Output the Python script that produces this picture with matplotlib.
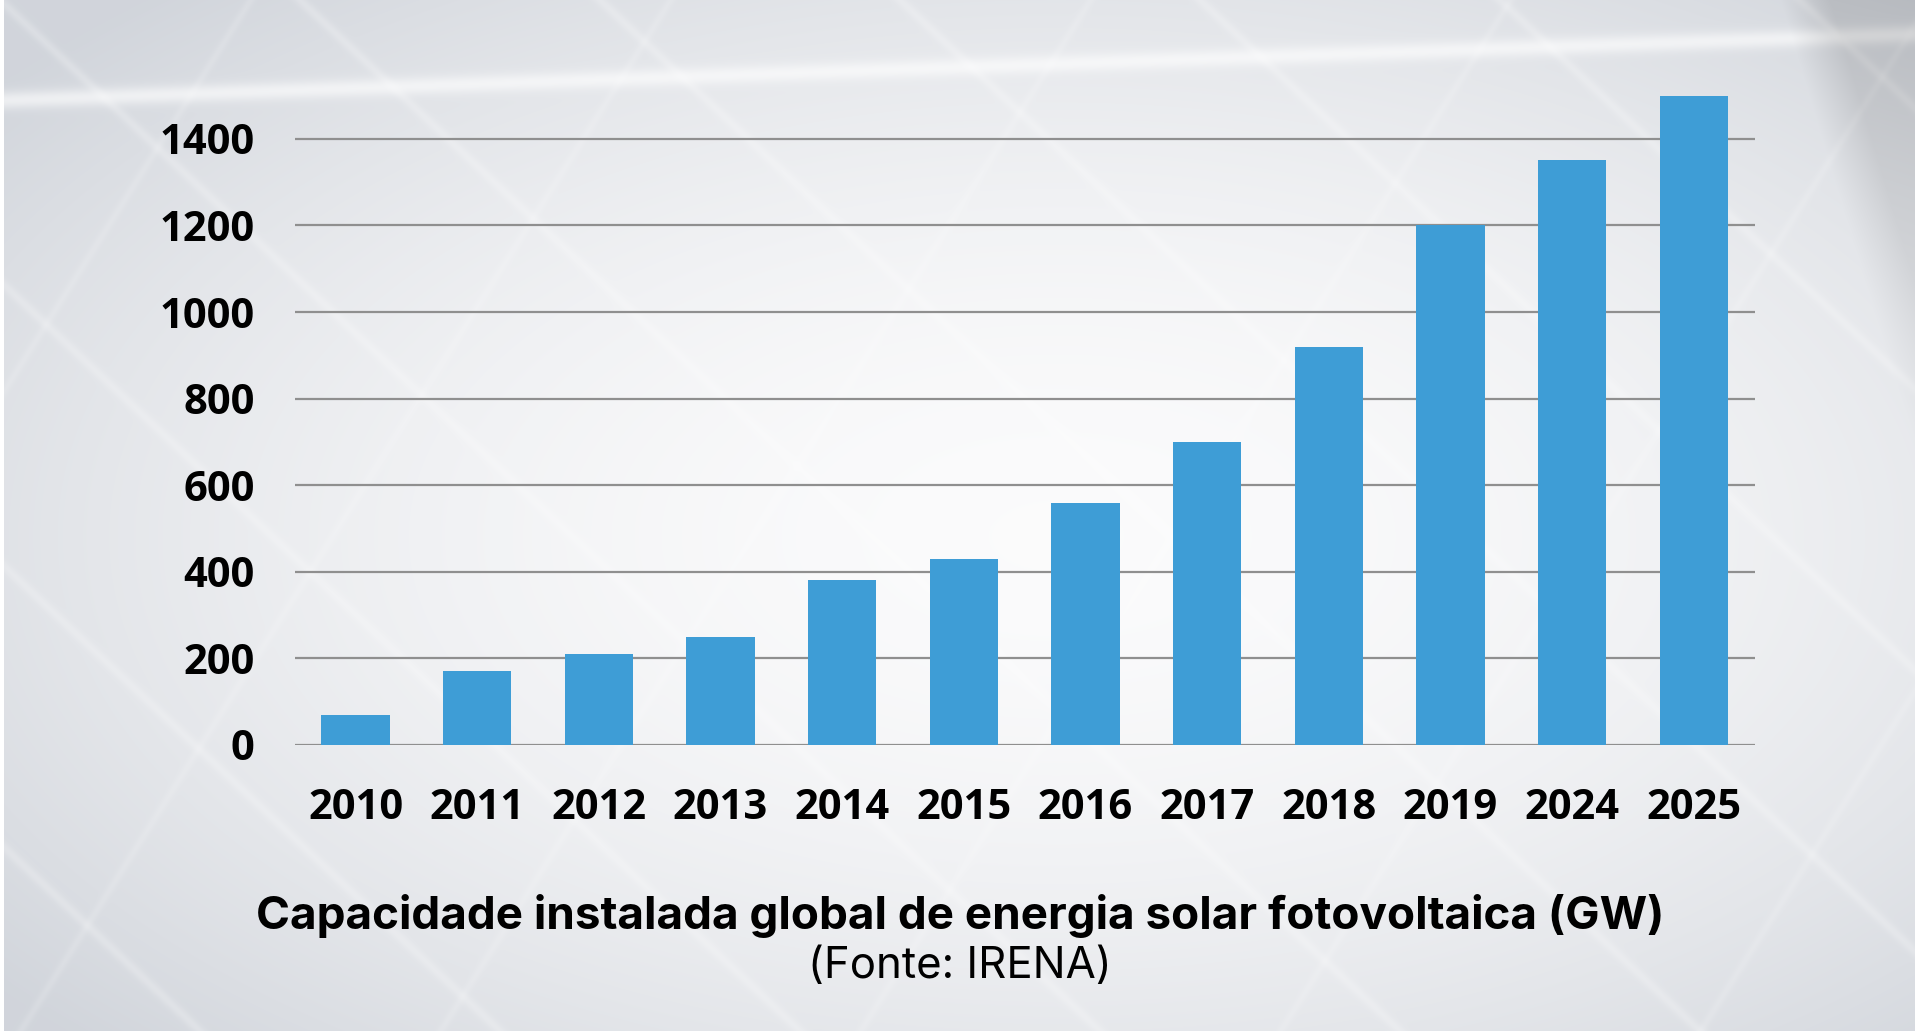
import numpy as np
import matplotlib
matplotlib.use("Agg")
import matplotlib.pyplot as plt

years = ["2010", "2011", "2012", "2013", "2014", "2015", "2016", "2017", "2018", "2019", "2024", "2025"]
capacity_gw = [70, 170, 210, 250, 380, 430, 560, 700, 920, 1200, 1350, 1500]
y_ticks = [0, 200, 400, 600, 800, 1000, 1200, 1400]
title = "Capacidade instalada global de energia solar fotovoltaica (GW)"
subtitle = "(Fonte: IRENA)"

W, H = 1920, 1031
fig = plt.figure(figsize=(W / 100, H / 100), dpi=100)

# ---- background: soft grey photo-like gradient with faint panel lines ----
yy, xx = np.mgrid[0:H, 0:W].astype(float)
cx, cy = 0.55 * W, 0.52 * H
r = np.sqrt(((xx - cx) / (0.60 * W)) ** 2 + ((yy - cy) / (0.60 * H)) ** 2)
t = np.clip(1.0 - r ** 1.8 * 0.75, 0, 1)[..., None]
base_edge = np.array([0.82, 0.835, 0.86])
base_mid = np.array([0.985, 0.985, 0.988])
img = base_edge * (1 - t) + base_mid * t

def add_line(img, p0, p1, width, strength):
    (x0, y0), (x1, y1) = p0, p1
    dx, dy = x1 - x0, y1 - y0
    L = np.hypot(dx, dy)
    d = np.abs(dy * (xx - x0) - dx * (yy - y0)) / L
    a = strength * np.exp(-(d / width) ** 2)
    return img * (1 - a[..., None]) + a[..., None] * 1.0

# faint diagonal panel lines
for off in np.arange(-1500, 2200, 300):
    img = add_line(img, (off, 0), (off + 1100, H), 5.0, 0.22)
for off in np.arange(-400, 2400, 420):
    img = add_line(img, (off, H), (off + 650, 0), 4.0, 0.14)
# bright band near the top
img = add_line(img, (0, 100), (1300, 55), 9.0, 0.6)

# darker frame region on the top right
frame = np.clip((xx - (1780 + 0.3 * yy)) / 50.0, 0, 1) * np.clip(1 - yy / 650.0, 0, 1)
img = img * (1 - 0.13 * frame[..., None])
img[:, :4] = 1.0
img[:, -5:] = 1.0

bg = fig.add_axes([0, 0, 1, 1], zorder=0)
bg.imshow(img, aspect="auto", extent=[0, 1, 0, 1], interpolation="bilinear")
bg.set_axis_off()

# ---- chart axes ----
ax_left = 294.7 / W
ax_right = 1754.6 / W
y0_px = 745.0
px_per_gw = 86.6 / 200.0
ymax = 1550
ax_bottom = (H - y0_px) / H
ax_top = (H - (y0_px - ymax * px_per_gw)) / H
ax = fig.add_axes([ax_left, ax_bottom, ax_right - ax_left, ax_top - ax_bottom], zorder=1)
ax.patch.set_alpha(0)

x = np.arange(len(years))
ax.bar(x, capacity_gw, width=0.56, color="#3e9dd6", zorder=3)
ax.set_xlim(-0.5, len(years) - 0.5)
ax.set_ylim(0, ymax)
ax.set_yticks(y_ticks)
ax.set_xticks(x)
ax.set_xticklabels(years)
for s in ax.spines.values():
    s.set_visible(False)
ax.yaxis.grid(True, color="#8f8f8f", linewidth=1.6, zorder=1)
ax.tick_params(axis="both", length=0)
ax.tick_params(axis="y", pad=29)
ax.tick_params(axis="x", pad=31)
for lab in ax.get_yticklabels() + ax.get_xticklabels():
    lab.set_fontfamily(["Open Sans", "DejaVu Sans"])
    lab.set_fontweight("bold")
    lab.set_fontsize(30)
    lab.set_color("#000000")

fig.text(0.5, (H - 916) / H, title, ha="center", va="center",
         fontsize=33, fontweight="bold", family=["Inter", "DejaVu Sans"], color="#000000")
fig.text(0.5, (H - 967) / H, subtitle, ha="center", va="center",
         fontsize=31.5, family=["Inter", "DejaVu Sans"], color="#000000")

fig.savefig("out.png", dpi=100)
